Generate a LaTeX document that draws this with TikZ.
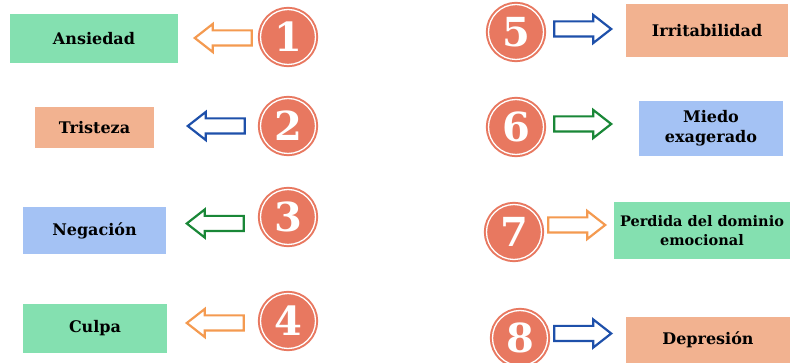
\documentclass[tikz,border=0pt]{standalone}
\usepackage{fontspec}
\usepackage{tikz}
\usetikzlibrary{
    shapes.arrows,
    positioning
}
\newfontfamily\emofont{DejaVu Serif}
\definecolor{SoftMint}{RGB}{132,224,176}
\definecolor{SoftPeach}{RGB}{242,178,144}
\definecolor{SoftSky}{RGB}{164,194,244}
\definecolor{numRed}{RGB}{232,120,96}
\definecolor{arOrange}{RGB}{244,154,80}
\definecolor{arBlue}{RGB}{30,80,170}
\definecolor{arGreen}{RGB}{25,135,55}
\tikzset{
  emo/.style    = {inner sep=2pt, align=center,
                   font=\emofont\bfseries\fontsize{16}{20}\selectfont},
  numc/.style   = {circle, fill=numRed, draw=numRed, line width=2pt,
                   double=white, double distance=1.3pt, minimum size=55pt,
                   inner sep=0pt, text=white,
                   font=\emofont\bfseries\fontsize{40}{40}\selectfont},
  blk/.style    = {single arrow, draw=#1, fill=white, line width=2.2pt,
                   minimum height=57pt, inner xsep=0pt, inner ysep=6.5pt,
                   single arrow head extend=6.5pt, single arrow tip angle=76,
                   anchor=tip},
  blkl/.style   = {blk=#1, shape border rotate=180}
}

\begin{document}
\begin{tikzpicture}[x=1pt,y=-1pt]
\useasboundingbox (0,0) rectangle (790,363);
% left column
\node[emo,fill=SoftMint,minimum width=168pt,minimum height=49pt]  (e1) at (94,38.5)  {Ansiedad};
\node[emo,fill=SoftPeach,minimum width=119pt,minimum height=41pt] (e2) at (94.5,128) {Tristeza};
\node[emo,fill=SoftSky,minimum width=143pt,minimum height=47pt]   (e3) at (94.5,230.5) {Negación};
\node[emo,fill=SoftMint,minimum width=144pt,minimum height=49pt]  (e4) at (95,328.5)  {Culpa};
\node[numc] (n1) at (288,37)  {1};
\node[numc] (n2) at (288,126) {2};
\node[numc] (n3) at (288,217) {3};
\node[numc] (n4) at (288,321) {4};
\node[blkl=arOrange] (a1) at (193,38)    {};
\node[blkl=arBlue]   (a2) at (186,126)   {};
\node[blkl=arGreen]  (a3) at (185,223.5) {};
\node[blkl=arOrange] (a4) at (185,323)   {};
% right column
\node[numc] (n5) at (516,32)  {5};
\node[numc] (n6) at (516,127) {6};
\node[numc] (n7) at (514,232) {7};
\node[numc] (n8) at (520,338) {8};
\node[blk=arBlue]   (a5) at (613,29)    {};
\node[blk=arGreen]  (a6) at (613,124)   {};
\node[blk=arOrange] (a7) at (607,225)   {};
\node[blk=arBlue]   (a8) at (613,333.5) {};
\node[emo,fill=SoftPeach,minimum width=162pt,minimum height=53pt] (e5) at (707,30.5)  {Irritabilidad};
\node[emo,fill=SoftSky,minimum width=144pt,minimum height=55pt]   (e6) at (711,128.5) {Miedo\\exagerado};
\node[emo,fill=SoftMint,minimum width=176pt,minimum height=57pt,
      font=\emofont\bfseries\fontsize{14.5}{19}\selectfont]        (e7) at (702,230.5) {Perdida del dominio\\emocional};
\node[emo,fill=SoftPeach,minimum width=164pt,minimum height=46pt] (e8) at (708,340)   {Depresión};
\end{tikzpicture}
\end{document}
